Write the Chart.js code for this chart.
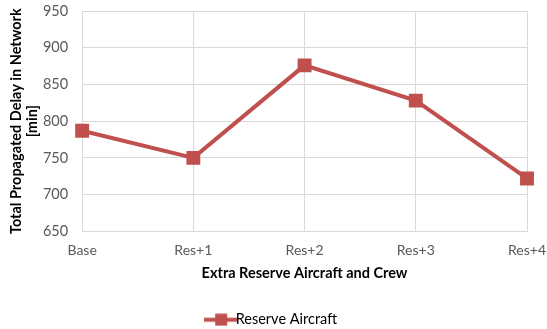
<!DOCTYPE html>
<html>
<head>
<meta charset="utf-8">
<script src="https://cdn.jsdelivr.net/npm/chart.js@4"></script>
<style>
  html, body { margin: 0; padding: 0; background: #fff; }
  #wrap { width: 547px; height: 329px; }
</style>
</head>
<body>
<div id="wrap"><canvas id="delayChart"></canvas></div>
<script>
const categories = ["Base", "Res+1", "Res+2", "Res+3", "Res+4"];
const reserveAircraft = [787, 750, 876, 828, 722];
const yTicks = [650, 700, 750, 800, 850, 900, 950];

const red = "#C0504D";
const grid = "#D9D9D9";
const tickColor = "#595959";
const fontFamily = "Lato, 'Open Sans', sans-serif";

// legend swatch: line with a square marker in the middle
const swatch = document.createElement("canvas");
swatch.width = 34;
swatch.height = 13;
const sctx = swatch.getContext("2d");
sctx.strokeStyle = red;
sctx.lineWidth = 4;
sctx.beginPath();
sctx.moveTo(0, 6.5);
sctx.lineTo(34, 6.5);
sctx.stroke();
sctx.fillStyle = red;
sctx.fillRect(11, 0.5, 12, 12);

const ctx = document.getElementById("delayChart").getContext("2d");
new Chart(ctx, {
  type: "line",
  data: {
    labels: categories,
    datasets: [{
      label: "Reserve Aircraft",
      data: reserveAircraft,
      borderColor: red,
      backgroundColor: red,
      borderWidth: 4,
      pointStyle: "rect",
      pointRadius: 7,
      pointHoverRadius: 7,
      tension: 0
    }]
  },
  options: {
    responsive: true,
    maintainAspectRatio: false,
    animation: false,
    // chart.js reserves tick padding twice, so the titles pull back in
    layout: { padding: { left: 4, right: 0, top: 0, bottom: -8 } },
    scales: {
      x: {
        offset: false,
        grid: { color: grid, lineWidth: 1, drawTicks: false },
        border: { color: grid },
        ticks: { color: tickColor, font: { family: fontFamily, size: 14 }, padding: 11, maxRotation: 0 },
        // only leave room for half of the last label on the right
        afterFit: (scale) => { scale.paddingLeft = 0; scale.paddingRight = 20; },
        title: {
          display: true,
          text: "Extra Reserve Aircraft and Crew",
          color: "#000",
          font: { family: fontFamily, size: 14.5, weight: "bold" },
          padding: { top: -5, bottom: 12 }
        }
      },
      y: {
        min: 650,
        max: 950,
        afterBuildTicks: (axis) => { axis.ticks = yTicks.map(v => ({ value: v })); },
        afterFit: (scale) => { scale.paddingTop = 11; scale.paddingBottom = 0; },
        grid: { color: grid, lineWidth: 1, drawTicks: false },
        border: { color: grid },
        ticks: { color: tickColor, font: { family: fontFamily, size: 14.5 }, padding: 14 },
        title: {
          display: true,
          text: ["Total Propagated Delay in Network", "[min]"],
          color: "#000",
          font: { family: fontFamily, size: 14.5, weight: "bold", lineHeight: 1.1 },
          padding: { top: 4, bottom: -11 }
        }
      }
    },
    plugins: {
      legend: {
        position: "bottom",
        labels: {
          color: "#000",
          font: { family: fontFamily, size: 14.5 },
          usePointStyle: true,
          padding: 18,
          generateLabels: (chart) => chart.data.datasets.map((ds, i) => ({
            text: ds.label,
            pointStyle: swatch,
            fontColor: "#000",
            datasetIndex: i
          }))
        }
      },
      tooltip: { enabled: false }
    }
  }
});
</script>
</body>
</html>
